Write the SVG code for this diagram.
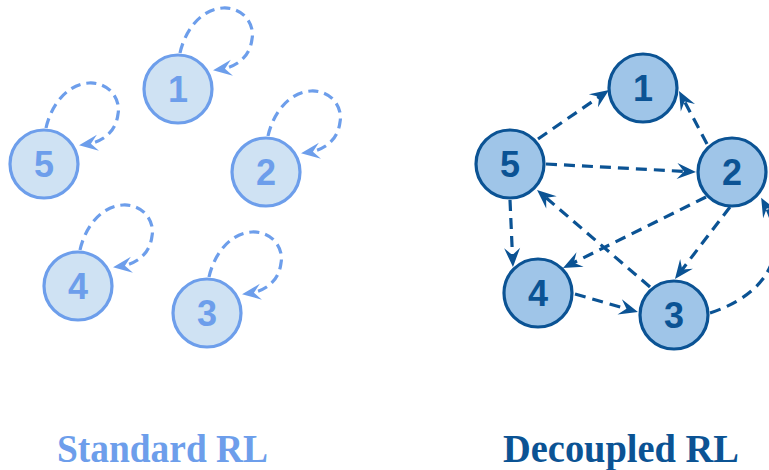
<svg xmlns="http://www.w3.org/2000/svg" width="769" height="470" viewBox="0 0 769 470">
  <defs>
    <style>
      .node-std circle { fill: #cfe2f3; stroke: #6d9eeb; stroke-width: 3.2; }
      .node-std text { fill: #6d9eeb; }
      .node-dec circle { fill: #9fc5e8; stroke: #0b5394; stroke-width: 3.2; }
      .node-dec text { fill: #0b5394; }
      .num { font-family: "Liberation Sans", Arial, sans-serif; font-weight: bold; font-size: 36px; text-anchor: middle; }
      .loop { fill: none; stroke: #6d9eeb; stroke-width: 3.2; stroke-dasharray: 10 6; marker-end: url(#arrowLight); }
      .edge { fill: none; stroke: #0b5394; stroke-width: 3.2; stroke-dasharray: 11 7; marker-end: url(#arrowDark); }
      .caption { font-family: "Liberation Serif", "Times New Roman", serif; font-weight: bold; font-size: 40px; }
    </style>
    <marker id="arrowLight" markerUnits="userSpaceOnUse" markerWidth="40" markerHeight="40" refX="0" refY="0" orient="auto" overflow="visible">
      <path d="M6,0 L-13,-8 L-6,0 L-13,8 Z" fill="#6d9eeb"/>
    </marker>
    <marker id="arrowDark" markerUnits="userSpaceOnUse" markerWidth="40" markerHeight="40" refX="0" refY="0" orient="auto" overflow="visible">
      <path d="M6,0 L-13,-8 L-6,0 L-13,8 Z" fill="#0b5394"/>
    </marker>
    <!-- self loop drawn relative to a node centre -->
    <path id="selfLoop" d="M2,-36 C8,-62 25,-80 45,-81 C65,-82 77,-65 74,-50 C72,-33 60,-22 41,-19.5"/>
  </defs>

  <!-- Standard RL: independent agents, each with a self loop -->
  <g id="std-connectors">
    <use href="#selfLoop" class="loop" transform="translate(178,89)"/>
    <use href="#selfLoop" class="loop" transform="translate(44,164)"/>
    <use href="#selfLoop" class="loop" transform="translate(266,172)"/>
    <use href="#selfLoop" class="loop" transform="translate(78,286)"/>
    <use href="#selfLoop" class="loop" transform="translate(207,313)"/>
  </g>
  <g id="std-1" class="node-std"><circle cx="178" cy="89" r="34"/><text class="num" x="178" y="102">1</text></g>
  <g id="std-5" class="node-std"><circle cx="44" cy="164" r="34"/><text class="num" x="44" y="177">5</text></g>
  <g id="std-2" class="node-std"><circle cx="266" cy="172" r="34"/><text class="num" x="266" y="185">2</text></g>
  <g id="std-4" class="node-std"><circle cx="78" cy="286" r="34"/><text class="num" x="78" y="299">4</text></g>
  <g id="std-3" class="node-std"><circle cx="207" cy="313" r="34"/><text class="num" x="207" y="326">3</text></g>

  <!-- Decoupled RL: agents linked to each other -->
  <g id="dec-connectors">
    <path class="edge" d="M538,139 L604.1,93.4"/>
    <path class="edge" d="M546,164 L690,171.7"/>
    <path class="edge" d="M707,144 L681.8,96.3"/>
    <path class="edge" d="M706,197 L568.4,265.3"/>
    <path class="edge" d="M730,207 L678.6,274.2"/>
    <path class="edge" d="M650,287 L541.6,193.9"/>
    <path class="edge" d="M575,294 L632.2,310.4"/>
    <path class="edge" d="M510,200 L512.7,261"/>
    <path class="edge" d="M710,313 C765,295 792,255 764,203"/>
  </g>
  <g id="dec-1" class="node-dec"><circle cx="643" cy="88" r="34"/><text class="num" x="643" y="101">1</text></g>
  <g id="dec-5" class="node-dec"><circle cx="510" cy="164" r="34"/><text class="num" x="510" y="177">5</text></g>
  <g id="dec-2" class="node-dec"><circle cx="732" cy="172" r="34"/><text class="num" x="732" y="185">2</text></g>
  <g id="dec-4" class="node-dec"><circle cx="538" cy="293" r="34"/><text class="num" x="538" y="306">4</text></g>
  <g id="dec-3" class="node-dec"><circle cx="674" cy="315" r="34"/><text class="num" x="674" y="328">3</text></g>

  <g id="captions">
    <text class="caption" x="57" y="462" fill="#6d9eeb" textLength="211" lengthAdjust="spacingAndGlyphs">Standard RL</text>
    <text class="caption" x="503" y="462" fill="#0b5394" textLength="236" lengthAdjust="spacingAndGlyphs">Decoupled RL</text>
  </g>
</svg>
